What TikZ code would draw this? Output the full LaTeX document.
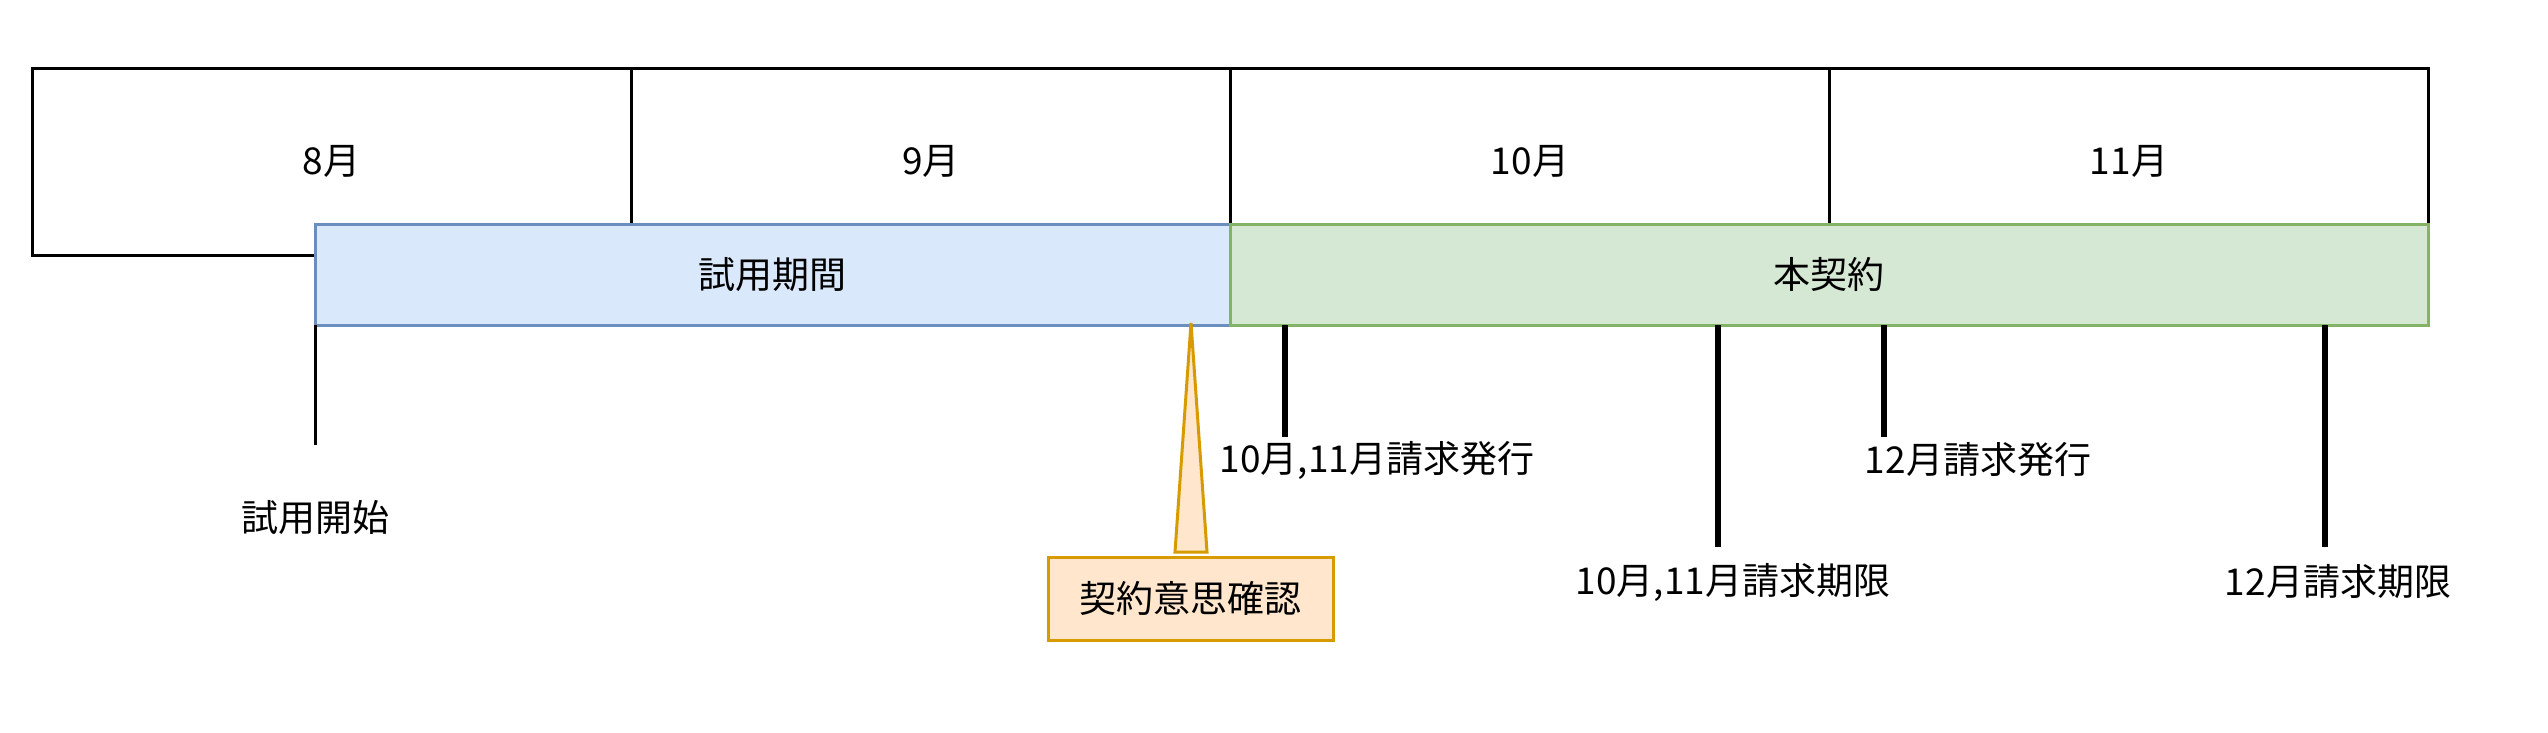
\documentclass[tikz,border=0pt]{standalone}
\usepackage{fontspec}
\setmainfont{Noto Sans CJK JP}
\definecolor{bluefill}{HTML}{DAE8FC}
\definecolor{bluedraw}{HTML}{6C8EBF}
\definecolor{greenfill}{HTML}{D5E8D4}
\definecolor{greendraw}{HTML}{82B366}
\definecolor{orangefill}{HTML}{FFE6CC}
\definecolor{orangedraw}{HTML}{D79B00}
\begin{document}
\begin{tikzpicture}[x=1pt,y=-1pt,
  every node/.style={font=\fontsize{37}{44}\selectfont, inner sep=0pt, outer sep=0pt},
  monthbox/.style={draw=black, line width=3pt, fill=white, minimum width=599pt, minimum height=187pt},
  barbox/.style={line width=3pt, minimum height=101pt},
  trialbar/.style={barbox, draw=bluedraw, fill=bluefill, minimum width=915pt},
  mainbar/.style={barbox, draw=greendraw, fill=greenfill, minimum width=1198pt},
  tickline/.style={draw=black, line width=6pt},
  thintick/.style={draw=black, line width=3pt},
  callbox/.style={draw=orangedraw, fill=orangefill, line width=3pt, minimum width=285pt, minimum height=83pt},
  label/.style={text=black}
]
\useasboundingbox (0,0) rectangle (2548,732);
% months
\node[monthbox] (m8) at (331.5,161.5) {8月};
\node[monthbox] (m9) at (931,161.5) {9月};
\node[monthbox] (m10) at (1530,161.5) {10月};
\node[monthbox] (m11) at (2129,161.5) {11月};
% bars
\node[trialbar] (trial) at (772.5,274.5) {試用期間};
\node[mainbar] (main) at (1829,274.5) {本契約};
% tick ends
\coordinate (t0) at (315,445);
\coordinate (t1) at (1285,437);
\coordinate (t2) at (1718,547);
\coordinate (t3) at (1884,437);
\coordinate (t4) at (2325,547);
\draw[thintick] (trial.south -| t0) -- (t0);
\draw[tickline] (main.south -| t1) -- (t1);
\draw[tickline] (main.south -| t2) -- (t2);
\draw[tickline] (main.south -| t3) -- (t3);
\draw[tickline] (main.south -| t4) -- (t4);
% labels
\node[label] (l0) at (315,518) {試用開始};
\node[label] (l1) at (1377,460) {10月,11月請求発行};
\node[label] (l2) at (1733,582) {10月,11月請求期限};
\node[label] (l3) at (1978,460) {12月請求発行};
\node[label] (l4) at (2338,582) {12月請求期限};
% callout
\node[callbox] (confirm) at (1190.5,598.5) {契約意思確認};
\coordinate (apex) at (1191,323);
\filldraw[draw=orangedraw, fill=orangefill, line width=3pt, line join=miter]
  (1175,552) -- (apex) -- (1207,552) -- cycle;
\end{tikzpicture}
\end{document}
